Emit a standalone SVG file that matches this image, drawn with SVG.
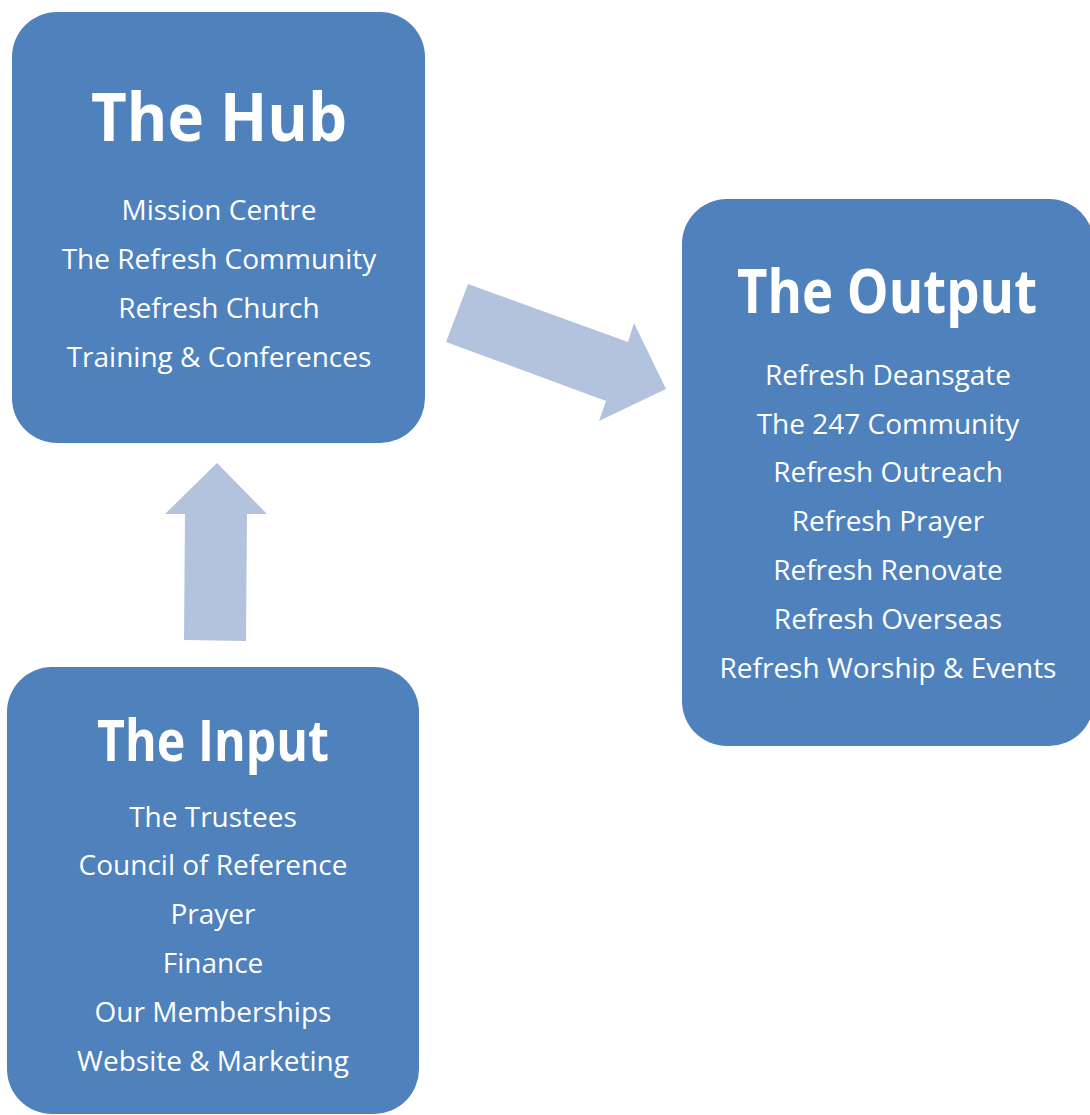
<svg xmlns="http://www.w3.org/2000/svg" width="1090" height="1115" viewBox="0 0 1090 1115">
<style>
.box{fill:#4F81BD}
.arrow{fill:#B3C3DE}
.title{font-family:"Open Sans","Noto Sans",sans-serif;font-weight:bold;fill:#fff;text-anchor:middle}
.item{font-family:"Open Sans","Noto Sans",sans-serif;font-size:28px;fill:#fff;text-anchor:middle}
</style>
<rect width="1090" height="1115" fill="#fff"/>
<g id="connectors">
<polygon class="arrow" points="217,463 267,514 247,514 246,641 184,640 185,514 165,514"/>
<polygon class="arrow" points="468,284 628,342 634,323 666,389 599,421 606,401 446,342"/>
</g>
<g id="hub">
<rect class="box" x="12" y="12" width="413" height="431" rx="45" ry="45"/>
<text class="title" x="219" y="141" font-size="66" textLength="256" lengthAdjust="spacingAndGlyphs">The Hub</text>
<text class="item" x="219" y="220">Mission Centre</text>
<text class="item" x="219" y="269">The Refresh Community</text>
<text class="item" x="219" y="318">Refresh Church</text>
<text class="item" x="219" y="367">Training &amp; Conferences</text>
</g>
<g id="output">
<rect class="box" x="682" y="199" width="412" height="547" rx="45" ry="45"/>
<text class="title" x="887" y="313" font-size="60" textLength="300" lengthAdjust="spacingAndGlyphs">The Output</text>
<text class="item" x="888" y="385">Refresh Deansgate</text>
<text class="item" x="888" y="434">The 247 Community</text>
<text class="item" x="888" y="482">Refresh Outreach</text>
<text class="item" x="888" y="531">Refresh Prayer</text>
<text class="item" x="888" y="580">Refresh Renovate</text>
<text class="item" x="888" y="629">Refresh Overseas</text>
<text class="item" x="888" y="678">Refresh Worship &amp; Events</text>
</g>
<g id="input">
<rect class="box" x="7" y="667" width="412" height="447" rx="45" ry="45"/>
<text class="title" x="213" y="761" font-size="58" textLength="232" lengthAdjust="spacingAndGlyphs">The Input</text>
<text class="item" x="213" y="827">The Trustees</text>
<text class="item" x="213" y="875">Council of Reference</text>
<text class="item" x="213" y="924">Prayer</text>
<text class="item" x="213" y="973">Finance</text>
<text class="item" x="213" y="1022">Our Memberships</text>
<text class="item" x="213" y="1071">Website &amp; Marketing</text>
</g>
</svg>
